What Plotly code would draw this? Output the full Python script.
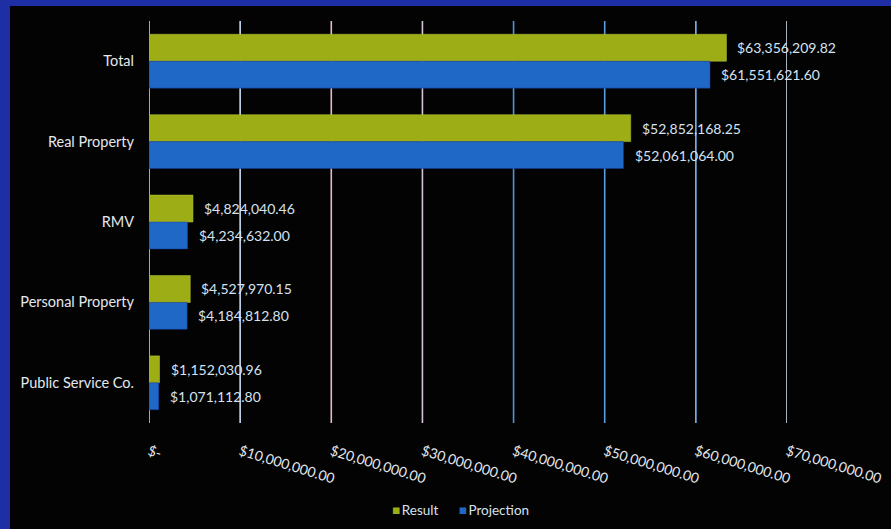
import plotly.graph_objects as go

# Categories, top to bottom
categories = ["Total", "Real Property", "RMV", "Personal Property", "Public Service Co."]
result_values = [63356209.82, 52852168.25, 4824040.46, 4527970.15, 1152030.96]
projection_values = [61551621.60, 52061064.00, 4234632.00, 4184812.80, 1071112.80]

tick_values = [0, 10e6, 20e6, 30e6, 40e6, 50e6, 60e6, 70e6]
tick_labels = ["$-", "$10,000,000.00", "$20,000,000.00", "$30,000,000.00",
               "$40,000,000.00", "$50,000,000.00", "$60,000,000.00", "$70,000,000.00"]
grid_colors = ["#e6c6d2", "#c9daf2", "#e6bccb", "#d6c0dc",
               "#4f92dc", "#5a9fe2", "#7fb6ea", "#d2e0ee"]

FONT = "Lato"
LABEL_COLOR = "#d6e2f0"
TEXT_COLOR = "#e4e8ee"
RESULT_COLOR = "#9dad16"
PROJECTION_COLOR = "#1f68c6"


def money(v):
    return "${:,.2f}".format(v)


fig = go.Figure()
fig.add_trace(go.Bar(
    name="Result", y=categories, x=result_values, orientation="h",
    marker=dict(color=RESULT_COLOR, line=dict(color="#b8c83a", width=0.5)),
    showlegend=False,
))
fig.add_trace(go.Bar(
    name="Projection", y=categories, x=projection_values, orientation="h",
    marker=dict(color=PROJECTION_COLOR, line=dict(color="#1a3c9e", width=0.5)),
    showlegend=False,
))

# value labels beside each bar
annotations = []
for cat, rv, pv in zip(categories, result_values, projection_values):
    annotations.append(dict(x=rv, y=cat, text=money(rv), xanchor="left", yanchor="middle",
                            xshift=9, yshift=13.5, showarrow=False,
                            font=dict(family=FONT, size=14, color=LABEL_COLOR)))
    annotations.append(dict(x=pv, y=cat, text=money(pv), xanchor="left", yanchor="middle",
                            xshift=9, yshift=-13.5, showarrow=False,
                            font=dict(family=FONT, size=14, color=LABEL_COLOR)))

# compact legend line below the axis
annotations.append(dict(
    xref="paper", yref="paper", x=0.4875, y=-0.216, xanchor="center", yanchor="middle",
    showarrow=False, font=dict(family=FONT, size=13.5, color=LABEL_COLOR),
    text=(f"<span style='color:{RESULT_COLOR}'>■</span>\u2009Result"
          f"\u2003\u2003<span style='color:{PROJECTION_COLOR}'>■</span>\u2009Projection"),
))

# dark panel over the blue frame, then coloured vertical gridlines
shapes = [dict(type="rect", xref="paper", yref="paper",
               x0=-0.2179, x1=1.4, y0=-0.5, y1=1.0373,
               fillcolor="#030303", line=dict(width=0), layer="below")]
for tv, col in zip(tick_values, grid_colors):
    shapes.append(dict(type="line", xref="x", yref="paper", x0=tv, x1=tv, y0=0, y1=1,
                       line=dict(color=col, width=1.6), layer="below"))

fig.update_layout(
    width=891, height=529,
    margin=dict(l=149, r=104, t=21, b=106),
    paper_bgcolor="#1e2ea4",
    plot_bgcolor="rgba(0,0,0,0)",
    barmode="group", bargap=0.33, bargroupgap=0,
    font=dict(family=FONT, size=14, color=TEXT_COLOR),
    shapes=shapes,
    annotations=annotations,
    showlegend=False,
    xaxis=dict(range=[0, 70e6], tickvals=tick_values, ticktext=tick_labels,
               tickangle=17, showgrid=False, zeroline=False, showline=False,
               ticklabelstandoff=17, automargin=False,
               tickfont=dict(family=FONT, size=14, color=TEXT_COLOR)),
    yaxis=dict(autorange="reversed", showgrid=False, zeroline=False, showline=False,
               ticklabelstandoff=14, automargin=False,
               tickfont=dict(family=FONT, size=14.5, color=TEXT_COLOR)),
)

fig.write_html("out.html")
